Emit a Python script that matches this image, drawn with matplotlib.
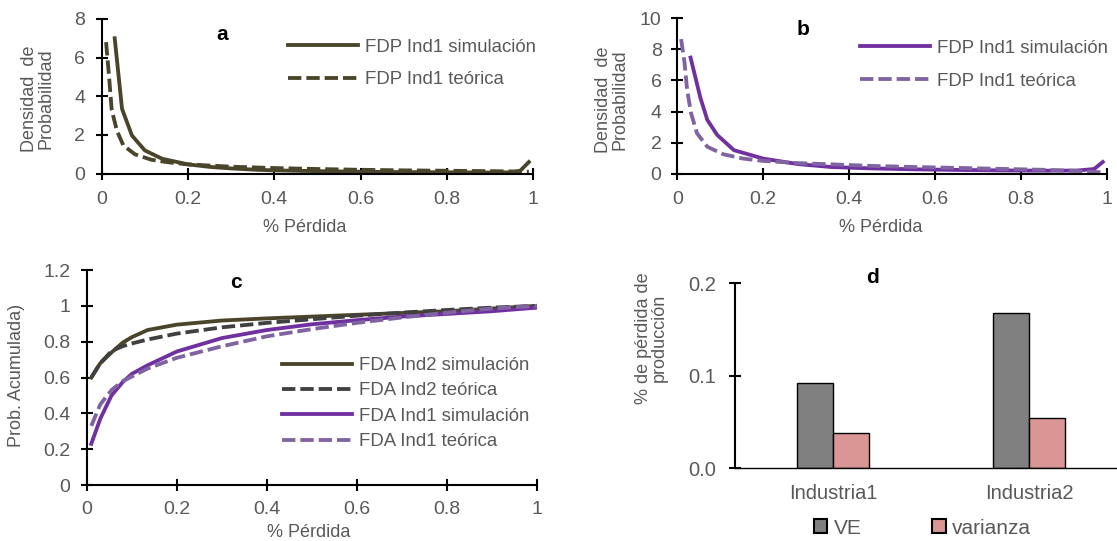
import numpy as np
import matplotlib
matplotlib.use('Agg')
import matplotlib.pyplot as plt
from matplotlib.patches import Patch

plt.rcParams['font.family'] = ['Liberation Sans', 'DejaVu Sans']

# panel a: FDP Ind (olive)
xa_sim = [0.03, 0.047, 0.07, 0.1, 0.14, 0.2, 0.25, 0.3, 0.36, 0.4, 0.5, 0.6, 0.7, 0.8, 0.9, 0.95, 0.97, 0.99]
ya_sim = [7.0, 3.35, 1.97, 1.2, 0.77, 0.48, 0.35, 0.27, 0.2, 0.17, 0.13, 0.1, 0.08, 0.07, 0.06, 0.07, 0.15, 0.6]
xa_teo = [0.01, 0.017, 0.023, 0.035, 0.05, 0.077, 0.115, 0.15, 0.2, 0.3, 0.4, 0.5, 0.6, 0.7, 0.8, 0.9, 0.97, 0.99]
ya_teo = [6.8, 5.0, 3.3, 2.23, 1.46, 1.0, 0.72, 0.6, 0.48, 0.36, 0.29, 0.24, 0.2, 0.17, 0.15, 0.13, 0.11, 0.1]

# panel b: FDP Ind (purple)
xb_sim = [0.031, 0.054, 0.07, 0.093, 0.132, 0.2, 0.28, 0.357, 0.45, 0.55, 0.65, 0.75, 0.85, 0.93, 0.97, 0.99]
yb_sim = [7.47, 4.87, 3.46, 2.49, 1.51, 0.97, 0.62, 0.43, 0.34, 0.28, 0.24, 0.21, 0.19, 0.2, 0.3, 0.75]
xb_teo = [0.009, 0.017, 0.023, 0.032, 0.046, 0.07, 0.107, 0.153, 0.2, 0.28, 0.357, 0.45, 0.55, 0.65, 0.75, 0.85, 0.93, 0.99]
yb_teo = [8.66, 7.14, 5.4, 3.9, 2.6, 1.73, 1.25, 0.97, 0.82, 0.68, 0.6, 0.5, 0.43, 0.37, 0.31, 0.25, 0.18, 0.08]

# panel c: FDA
xc = [0.01, 0.03, 0.055, 0.08, 0.1, 0.135, 0.2, 0.3, 0.4, 0.5, 0.6, 0.7, 0.8, 0.9, 1.0]
ind2_sim = [0.6, 0.68, 0.74, 0.795, 0.825, 0.865, 0.895, 0.918, 0.93, 0.94, 0.95, 0.96, 0.97, 0.985, 1.0]
ind2_teo = [0.6, 0.68, 0.748, 0.775, 0.79, 0.812, 0.845, 0.88, 0.905, 0.925, 0.945, 0.962, 0.977, 0.99, 1.0]
ind1_sim = [0.23, 0.37, 0.5, 0.575, 0.62, 0.668, 0.745, 0.82, 0.865, 0.897, 0.92, 0.94, 0.955, 0.97, 0.99]
ind1_teo = [0.33, 0.45, 0.53, 0.58, 0.605, 0.65, 0.71, 0.774, 0.83, 0.87, 0.905, 0.935, 0.962, 0.985, 1.0]

# panel d: bars
industrias = ['Industria1', 'Industria2']
ve = [0.092, 0.168]
varianza = [0.038, 0.054]

olive = '#4A452A'
dgray = '#404040'
purple = '#7030A0'
lpurple = '#8064A2'
gray_txt = '#595959'
tick_fs = 14
leg_fs = 13.4
lab_fs = 13
lw = 2.75
dash = (0, (3.5, 1.3))
xt = [0, 0.2, 0.4, 0.6, 0.8, 1]
xtl = ['0', '0.2', '0.4', '0.6', '0.8', '1']

fig = plt.figure(figsize=(11.17, 5.41), dpi=100)


def style(ax, xpad, ypad, fs=tick_fs):
    for s in ['top', 'right']:
        ax.spines[s].set_visible(False)
    for s in ['left', 'bottom']:
        ax.spines[s].set_linewidth(1.5)
        ax.spines[s].set_color('black')
    ax.tick_params(direction='inout', length=8.6, width=1.5, color='black',
                   labelcolor=gray_txt, labelsize=fs)
    ax.tick_params(axis='x', pad=xpad)
    ax.tick_params(axis='y', pad=ypad)


def labels(ax, xl, xpos, yl, ypos):
    ax.set_xlabel(xl, color=gray_txt, fontsize=lab_fs, va='center')
    ax.set_ylabel(yl, color=gray_txt, fontsize=lab_fs, va='center', linespacing=0.95)
    ax.xaxis.set_label_coords(*xpos)
    ax.yaxis.set_label_coords(*ypos)


def curve(ax, x, y, color, label, dashed=False):
    kw = dict(color=color, lw=lw, label=label, solid_joinstyle='round', dash_joinstyle='round')
    if dashed:
        kw['ls'] = dash
    ax.plot(x, y, **kw)


ax_a = fig.add_axes([0.0911, 0.679, 0.3862, 0.286])
curve(ax_a, xa_sim, ya_sim, olive, 'FDP Ind1 simulación')
curve(ax_a, xa_teo, ya_teo, olive, 'FDP Ind1 teórica', dashed=True)
ax_a.set_xlim(0, 1)
ax_a.set_ylim(0, 8)
ax_a.set_yticks([0, 2, 4, 6, 8])
ax_a.set_xticks(xt)
ax_a.set_xticklabels(xtl)
labels(ax_a, '% Pérdida', (0.47, -0.345), 'Densidad  de\nProbabilidad', (-0.149, 0.483))
style(ax_a, 8, 7.5)
ax_a.legend(loc='upper left', bbox_to_anchor=(0.414, 0.921), frameon=False, fontsize=leg_fs,
            handlelength=3.75, handletextpad=0.38, labelspacing=0.85, labelcolor=gray_txt,
            borderaxespad=0)
ax_a.text(0.279, 0.9, 'a', transform=ax_a.transAxes, fontsize=15, fontweight='bold', ha='center', va='center')

ax_b = fig.add_axes([0.6063, 0.679, 0.3848, 0.2872])
curve(ax_b, xb_sim, yb_sim, purple, 'FDP Ind1 simulación')
curve(ax_b, xb_teo, yb_teo, lpurple, 'FDP Ind1 teórica', dashed=True)
ax_b.set_xlim(0, 1)
ax_b.set_ylim(0, 10)
ax_b.set_yticks([0, 2, 4, 6, 8, 10])
ax_b.set_xticks(xt)
ax_b.set_xticklabels(xtl)
labels(ax_b, '% Pérdida', (0.474, -0.345), 'Densidad  de\nProbabilidad', (-0.152, 0.478))
style(ax_b, 8, 7)
ax_b.legend(loc='upper left', bbox_to_anchor=(0.409, 0.91), frameon=False, fontsize=leg_fs,
            handlelength=3.75, handletextpad=0.38, labelspacing=0.85, labelcolor=gray_txt,
            borderaxespad=0)
ax_b.text(0.293, 0.925, 'b', transform=ax_b.transAxes, fontsize=15, fontweight='bold', ha='center', va='center')

ax_c = fig.add_axes([0.0777, 0.1035, 0.4029, 0.3974])
curve(ax_c, xc, ind2_sim, olive, 'FDA Ind2 simulación')
curve(ax_c, xc, ind2_teo, dgray, 'FDA Ind2 teórica', dashed=True)
curve(ax_c, xc, ind1_sim, purple, 'FDA Ind1 simulación')
curve(ax_c, xc, ind1_teo, lpurple, 'FDA Ind1 teórica', dashed=True)
ax_c.set_xlim(0, 1)
ax_c.set_ylim(0, 1.2)
ax_c.set_yticks([0, 0.2, 0.4, 0.6, 0.8, 1, 1.2])
ax_c.set_yticklabels(['0', '0.2', '0.4', '0.6', '0.8', '1', '1.2'])
ax_c.set_xticks(xt)
ax_c.set_xticklabels(xtl)
labels(ax_c, '% Pérdida', (0.494, -0.223), 'Prob. Acumulada)', (-0.157, 0.508))
style(ax_c, 7, 7.5)
ax_c.legend(loc='upper left', bbox_to_anchor=(0.418, 0.63), frameon=False, fontsize=leg_fs,
            handlelength=3.75, handletextpad=0.38, labelspacing=0.45, labelcolor=gray_txt,
            borderaxespad=0)
ax_c.text(0.332, 0.944, 'c', transform=ax_c.transAxes, fontsize=15, fontweight='bold', ha='center', va='center')

ax_d = fig.add_axes([0.658, 0.1344, 0.351, 0.342])
pos = np.arange(len(industrias))
w = 0.184
ax_d.bar(pos - w / 2, ve, w, color='#808080', edgecolor='black', lw=1, label='VE')
ax_d.bar(pos + w / 2, varianza, w, color='#DA9694', edgecolor='black', lw=1, label='varianza')
ax_d.set_xlim(-0.5, 1.5)
ax_d.set_ylim(0, 0.2)
ax_d.set_yticks([0, 0.1, 0.2])
ax_d.set_yticklabels(['0.0', '0.1', '0.2'])
ax_d.set_xticks(pos)
ax_d.set_xticklabels(industrias)
ax_d.set_ylabel('% de pérdida de\nproducción', color=gray_txt, fontsize=lab_fs, va='center', linespacing=0.95)
ax_d.yaxis.set_label_coords(-0.213, 0.704)
style(ax_d, 11, 9.5, fs=14.5)
ax_d.tick_params(axis='x', length=0)
ax_d.spines['bottom'].set_linewidth(1)
handles = [Patch(facecolor='#808080', edgecolor='black', lw=1.5),
           Patch(facecolor='#DA9694', edgecolor='black', lw=1.5)]
ax_d.legend(handles, ['VE', 'varianza'], loc='center', bbox_to_anchor=(0.478, -0.323),
            ncol=2, frameon=False, fontsize=15, handlelength=0.65, handleheight=0.65,
            handletextpad=0.3, columnspacing=3.4, labelcolor=gray_txt)
ax_d.text(0.35, 1.03, 'd', transform=ax_d.transAxes, fontsize=15, fontweight='bold', ha='center', va='center')

fig.savefig('out.png', dpi=100)
